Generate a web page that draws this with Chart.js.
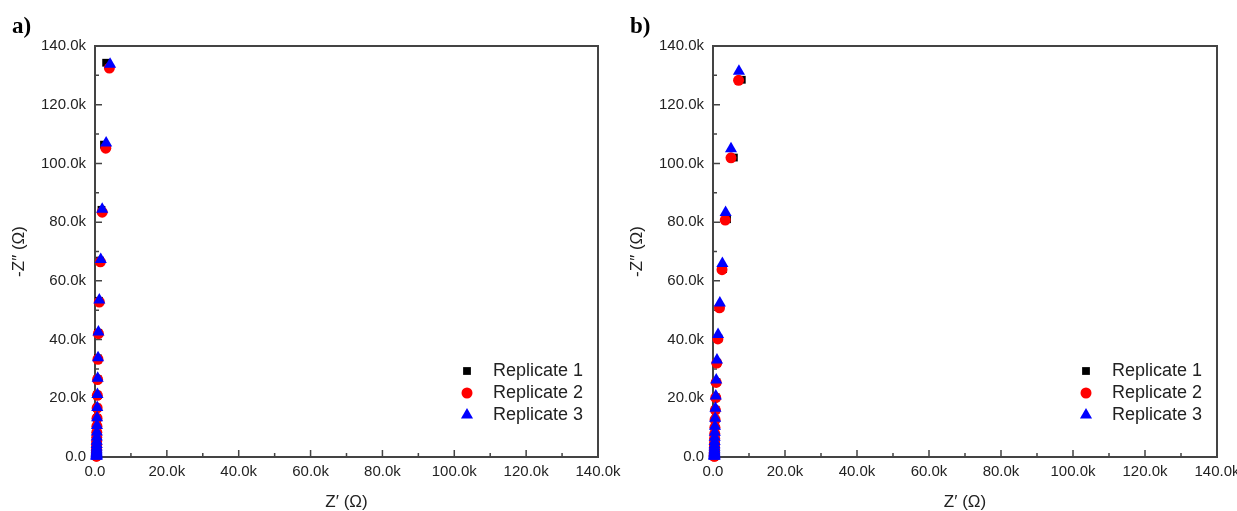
<!DOCTYPE html>
<html>
<head>
<meta charset="utf-8">
<script src="https://cdn.jsdelivr.net/npm/chart.js@4.4.1/dist/chart.umd.min.js"></script>
<style>
  html, body { margin: 0; padding: 0; background: #fff; overflow: hidden; }
  #wrap { position: relative; width: 1237px; height: 511px; overflow: hidden; }
  .panel { position: absolute; top: 0; height: 511px; width: 640px; }
  .tag { position: absolute; top: 13px; font: bold 23px "Liberation Serif", "DejaVu Serif", serif; color: #000; }
</style>
</head>
<body>
<div id="wrap">
  <div class="panel" style="left:0"><canvas id="chartA" width="640" height="511"></canvas></div>
  <div class="panel" style="left:618px"><canvas id="chartB" width="640" height="511"></canvas></div>
  <div class="tag" style="left:12px">a)</div>
  <div class="tag" style="left:630px">b)</div>
</div>
<script>
// values in kOhm
const seriesLabels = ["Replicate 1", "Replicate 2", "Replicate 3"];
const axisMax = 140;
const majorStep = 20;

// panel a
const aRep1X = [3.1, 2.5, 1.8, 1.4, 1.1, 0.9, 0.8, 0.7, 0.63, 0.58, 0.55, 0.52, 0.5, 0.48, 0.46, 0.45, 0.44, 0.44, 0.43, 0.43, 0.42, 0.42, 0.42, 0.41, 0.41, 0.41, 0.41, 0.41];
const aRep1Y = [134.3, 106.4, 84.2, 66.9, 53.2, 42.3, 33.6, 26.6, 21.2, 16.8, 13.3, 10.6, 8.45, 6.7, 5.35, 4.25, 3.38, 2.68, 2.13, 1.7, 1.35, 1.07, 0.85, 0.68, 0.54, 0.43, 0.34, 0.27];
const aRep2X = [4.0, 3.0, 2.0, 1.5, 1.2, 0.95, 0.82, 0.72, 0.65, 0.6, 0.56, 0.53, 0.5, 0.48, 0.47, 0.46, 0.45, 0.44, 0.44, 0.43, 0.43, 0.42, 0.42, 0.42, 0.41, 0.41, 0.41, 0.41];
const aRep2Y = [132.5, 105.2, 83.4, 66.5, 52.8, 42.0, 33.3, 26.4, 21.0, 16.7, 13.2, 10.5, 8.4, 6.7, 5.3, 4.2, 3.35, 2.66, 2.12, 1.68, 1.34, 1.06, 0.85, 0.68, 0.54, 0.43, 0.34, 0.27];
const aRep3X = [4.2, 3.1, 2.0, 1.6, 1.2, 0.95, 0.85, 0.75, 0.68, 0.62, 0.58, 0.55, 0.52, 0.5, 0.48, 0.47, 0.46, 0.45, 0.45, 0.44, 0.44, 0.43, 0.43, 0.43, 0.42, 0.42, 0.42, 0.42];
const aRep3Y = [133.8, 107.0, 84.4, 67.3, 53.5, 42.6, 33.8, 26.8, 21.3, 16.9, 13.4, 10.7, 8.5, 6.8, 5.4, 4.3, 3.4, 2.7, 2.15, 1.71, 1.36, 1.08, 0.86, 0.69, 0.55, 0.44, 0.35, 0.28];

// panel b
const bRep1X = [8.0, 5.8, 3.9, 2.8, 2.0, 1.5, 1.15, 0.95, 0.8, 0.7, 0.62, 0.56, 0.51, 0.48, 0.45, 0.43, 0.42, 0.41, 0.4, 0.4, 0.39, 0.39, 0.39, 0.38, 0.38, 0.38, 0.38, 0.38];
const bRep1Y = [128.5, 102.0, 81.0, 64.0, 51.0, 40.4, 32.1, 25.5, 20.3, 16.1, 12.8, 10.2, 8.1, 6.4, 5.1, 4.05, 3.22, 2.56, 2.03, 1.61, 1.28, 1.02, 0.81, 0.64, 0.51, 0.41, 0.32, 0.26];
const bRep2X = [7.1, 5.0, 3.4, 2.5, 1.8, 1.35, 1.05, 0.88, 0.76, 0.66, 0.58, 0.53, 0.49, 0.46, 0.44, 0.42, 0.41, 0.4, 0.4, 0.39, 0.39, 0.38, 0.38, 0.38, 0.38, 0.37, 0.37, 0.37];
const bRep2Y = [128.3, 101.9, 80.7, 63.8, 50.8, 40.2, 32.0, 25.4, 20.2, 16.0, 12.7, 10.1, 8.0, 6.4, 5.1, 4.0, 3.2, 2.55, 2.02, 1.6, 1.28, 1.01, 0.81, 0.64, 0.51, 0.41, 0.32, 0.26];
const bRep3X = [7.2, 5.0, 3.5, 2.6, 1.9, 1.4, 1.1, 0.9, 0.78, 0.68, 0.6, 0.55, 0.5, 0.47, 0.45, 0.43, 0.42, 0.41, 0.4, 0.4, 0.39, 0.39, 0.39, 0.38, 0.38, 0.38, 0.38, 0.38];
const bRep3Y = [131.4, 105.0, 83.3, 65.9, 52.5, 41.7, 33.0, 26.2, 20.8, 16.6, 13.2, 10.5, 8.4, 6.7, 5.3, 4.2, 3.4, 2.7, 2.15, 1.7, 1.35, 1.07, 0.85, 0.68, 0.54, 0.43, 0.34, 0.27];

const AXIS_COLOR = "#444";
const TEXT_COLOR = "#222";
const SANS = "'Liberation Sans', Arial, sans-serif";

function toPoints(xs, ys) {
  return xs.map((x, i) => ({ x: x, y: ys[i] }));
}

function tickLabel(v) {
  if (v % majorStep !== 0) return "";
  return v === 0 ? "0.0" : v.toFixed(1) + "k";
}

// box round the plot area, ticks pointing inward
const framePlugin = {
  id: "frame",
  beforeDatasetsDraw(chart) {
    const { ctx, chartArea: a } = chart;
    const xs = chart.scales.x, ys = chart.scales.y;
    ctx.save();
    ctx.strokeStyle = AXIS_COLOR;
    ctx.lineWidth = 2;
    ctx.strokeRect(a.left, a.top, a.right - a.left, a.bottom - a.top);
    ctx.lineWidth = 1.5;
    ctx.beginPath();
    xs.ticks.forEach(t => {
      const px = xs.getPixelForValue(t.value);
      const len = t.value % majorStep === 0 ? 7 : 4;
      ctx.moveTo(px, a.bottom);
      ctx.lineTo(px, a.bottom - len);
    });
    ys.ticks.forEach(t => {
      const py = ys.getPixelForValue(t.value);
      const len = t.value % majorStep === 0 ? 7 : 4;
      ctx.moveTo(a.left, py);
      ctx.lineTo(a.left + len, py);
    });
    ctx.stroke();
    ctx.restore();
  }
};

// legend inside the plot, bottom right
const insideLegend = {
  id: "insideLegend",
  afterDraw(chart) {
    const { ctx, chartArea: a } = chart;
    ctx.save();
    ctx.font = "18px " + SANS;
    ctx.textBaseline = "middle";
    chart.data.datasets.forEach((ds, i) => {
      const y = a.bottom - 86 + i * 22;
      const x = a.right - 131;
      ctx.fillStyle = ds.backgroundColor;
      ctx.strokeStyle = ds.borderColor;
      Chart.helpers.drawPoint(ctx, {
        pointStyle: ds.pointStyle,
        radius: ds.pointRadius,
        borderWidth: 0,
        rotation: 0
      }, x, y);
      ctx.fillStyle = TEXT_COLOR;
      ctx.fillText(ds.label, a.right - 105, y);
    });
    ctx.restore();
  }
};

function makeDatasets(r1x, r1y, r2x, r2y, r3x, r3y) {
  return [
    { label: seriesLabels[0], data: toPoints(r1x, r1y), pointStyle: "rect", pointRadius: 5.5,
      backgroundColor: "#000", borderColor: "#000", borderWidth: 0, order: 3 },
    { label: seriesLabels[1], data: toPoints(r2x, r2y), pointStyle: "circle", pointRadius: 5.5,
      backgroundColor: "#ff0000", borderColor: "#ff0000", borderWidth: 0, order: 2 },
    { label: seriesLabels[2], data: toPoints(r3x, r3y), pointStyle: "triangle", pointRadius: 7,
      backgroundColor: "#0000ff", borderColor: "#0000ff", borderWidth: 0, order: 1 }
  ];
}

function makeChart(canvasId, datasets, rightPad) {
  const canvas = document.getElementById(canvasId);
  return new Chart(canvas.getContext("2d"), {
    type: "scatter",
    data: { datasets: datasets.map(d => Object.assign({ clip: false, pointHoverRadius: d.pointRadius }, d)) },
    options: {
      responsive: false,
      animation: false,
      events: [],
      layout: { padding: { left: 0, right: rightPad, top: 46, bottom: 0 } },
      plugins: { legend: { display: false }, tooltip: { enabled: false } },
      scales: {
        x: {
          type: "linear", position: "bottom", min: 0, max: axisMax,
          afterFit: s => { s.height = 54; s.paddingLeft = 0; s.paddingRight = 0; },
          grid: { display: false, drawTicks: false },
          border: { display: false },
          ticks: { stepSize: 10, autoSkip: false, maxRotation: 0, padding: 6,
            color: TEXT_COLOR, font: { family: SANS, size: 15 }, callback: tickLabel },
          title: { display: true, text: "Z\u2032 (\u03A9)", color: TEXT_COLOR,
            font: { family: SANS, size: 17, lineHeight: 1 }, padding: { top: 0, bottom: 0 } }
        },
        y: {
          type: "linear", position: "left", min: 0, max: axisMax,
          afterFit: s => { s.width = 95; s.paddingTop = 0; s.paddingBottom = 0; },
          grid: { display: false, drawTicks: false },
          border: { display: false },
          ticks: { stepSize: 10, autoSkip: false, padding: 9,
            color: TEXT_COLOR, font: { family: SANS, size: 15 }, callback: tickLabel },
          title: { display: true, text: "-Z\u2033 (\u03A9)", color: TEXT_COLOR,
            font: { family: SANS, size: 17, lineHeight: 1 }, padding: { top: 11, bottom: 0 } }
        }
      }
    },
    plugins: [framePlugin, insideLegend]
  });
}

makeChart("chartA", makeDatasets(aRep1X, aRep1Y, aRep2X, aRep2Y, aRep3X, aRep3Y), 42);
makeChart("chartB", makeDatasets(bRep1X, bRep1Y, bRep2X, bRep2Y, bRep3X, bRep3Y), 41);
</script>
</body>
</html>
